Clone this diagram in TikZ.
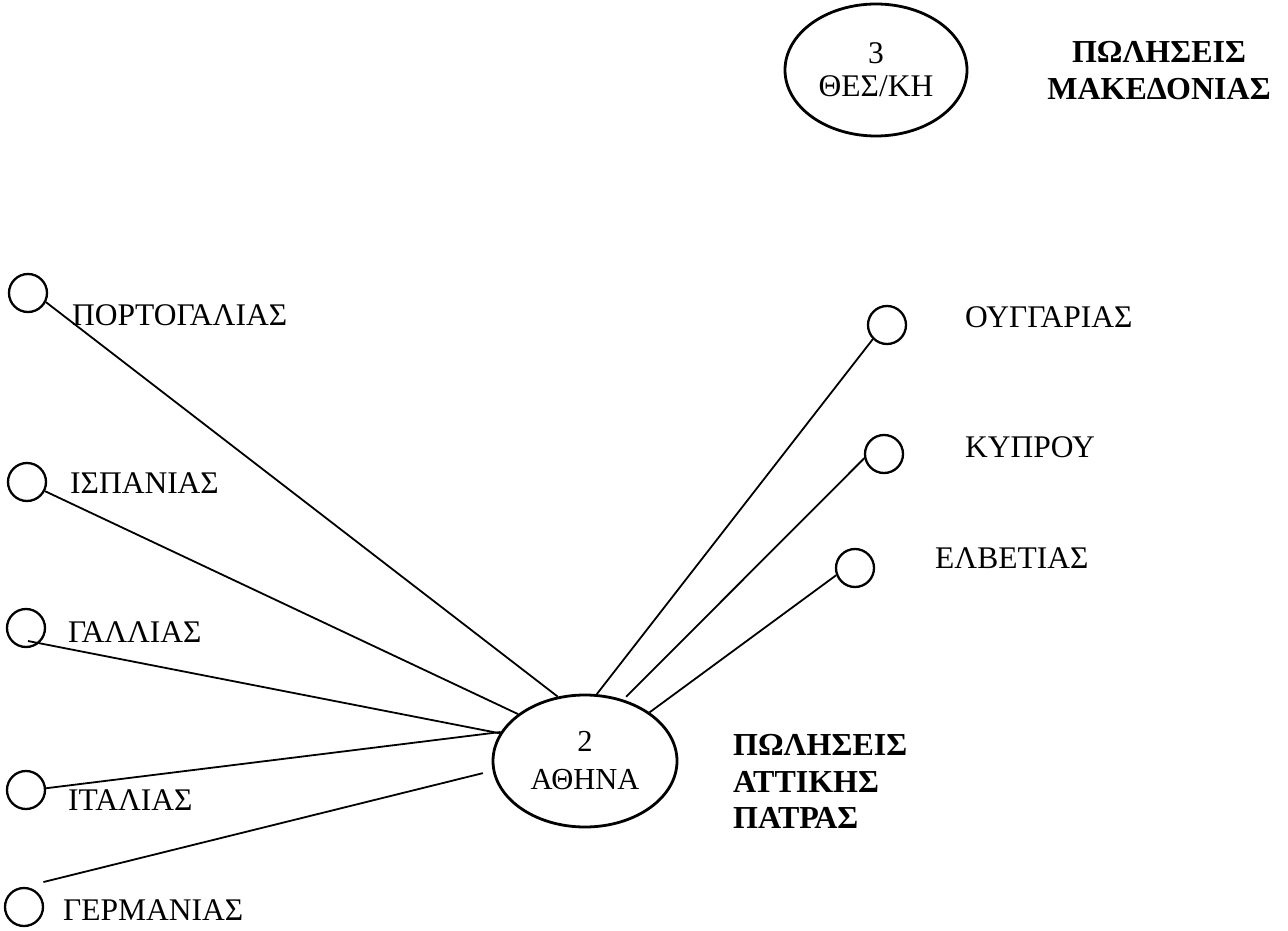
\documentclass[tikz,border=0pt]{standalone}
\usepackage{fontspec}
\setmainfont{Liberation Serif}
\usetikzlibrary{shapes.geometric}
\begin{document}
\begin{tikzpicture}[x=1pt,y=-1pt,
  smallc/.style={circle,draw,line width=2.3pt,minimum size=38pt,inner sep=0pt},
  bigell/.style={ellipse,draw,line width=2.8pt,inner sep=0pt,align=center},
  lbl/.style={anchor=base west,inner sep=0pt,font=\fontsize{31.5}{37}\selectfont},
  blbl/.style={inner sep=0pt,font=\fontsize{32}{37}\selectfont\bfseries},
  conn/.style={line width=1.8pt}]
\useasboundingbox[fill=white] (0,0) rectangle (1288,931);

% central nodes
\node[bigell,minimum width=184pt,minimum height=132pt,
  font=\fontsize{30.5}{38}\selectfont] (ath) at (585,761) {2\\ΑΘΗΝΑ};
\node[bigell,minimum width=182pt,minimum height=132pt,
  font=\fontsize{31.5}{33}\selectfont] (the) at (876,70) {3\\ΘΕΣ/ΚΗ};

% bold labels
\node[blbl,anchor=base] (mak1) at (1159,63) {ΠΩΛΗΣΕΙΣ};
\node[blbl,anchor=base] (mak2) at (1159,100) {ΜΑΚΕΔΟΝΙΑΣ};
\node[blbl,anchor=base west] (att1) at (733,755) {ΠΩΛΗΣΕΙΣ};
\node[blbl,anchor=base west] (att2) at (733,792) {ΑΤΤΙΚΗΣ};
\node[blbl,anchor=base west] (att3) at (733,828) {ΠΑΤΡΑΣ};

% small circles
\node[smallc] (por) at (28,293) {};
\node[smallc] (spa) at (27,482) {};
\node[smallc] (fra) at (26,628) {};
\node[smallc] (ita) at (26,790) {};
\node[smallc] (ger) at (24,907) {};
\node[smallc] (hun) at (887,325) {};
\node[smallc] (cyp) at (884,454) {};
\node[smallc] (swi) at (855,568) {};

% labels
\node[lbl] (lpor) at (72,325) {ΠΟΡΤΟΓΑΛΙΑΣ};
\node[lbl] (lspa) at (70,493) {ΙΣΠΑΝΙΑΣ};
\node[lbl] (lfra) at (68,642) {ΓΑΛΛΙΑΣ};
\node[lbl] (lita) at (68,810) {ΙΤΑΛΙΑΣ};
\node[lbl] (lger) at (63,920) {ΓΕΡΜΑΝΙΑΣ};
\node[lbl] (lhun) at (965,327) {ΟΥΓΓΑΡΙΑΣ};
\node[lbl] (lcyp) at (965,457) {ΚΥΠΡΟΥ};
\node[lbl] (lswi) at (935,568) {ΕΛΒΕΤΙΑΣ};

% connectors
\draw[conn] (por.-27) -- (ath.113);
\draw[conn] (spa.-27) -- (ath.145);
\draw[conn] ([shift={(2,13)}]fra.center) -- (ath.162);
\draw[conn] (ita.5) -- (ath.161);
\draw[conn,shorten <=20pt,shorten >=10pt] (ger.90) -- (ath.186);
\draw[conn] (hun.225) -- (ath.80);
\draw[conn,shorten >=4pt] (cyp.192) -- (ath.58);
\draw[conn] (swi.201) -- (ath.37);
\end{tikzpicture}
\end{document}
